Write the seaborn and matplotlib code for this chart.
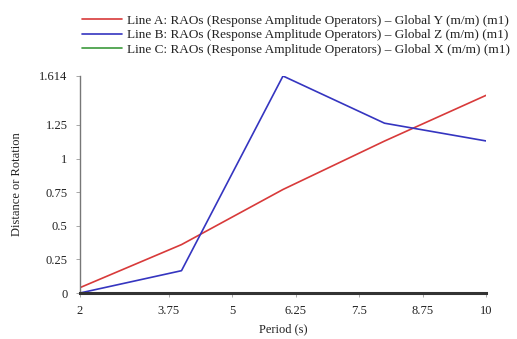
import matplotlib
matplotlib.use("Agg")
import matplotlib.pyplot as plt
import seaborn as sns
import pandas as pd

period = [2, 4, 6, 8, 10]
line_a = [0.04, 0.36, 0.77, 1.13, 1.47]
line_b = [0.0, 0.166, 1.614, 1.263, 1.131]
line_c = [0.0, 0.0, 0.0, 0.0, 0.0]
labels = [
    "Line A: RAOs (Response Amplitude Operators) \u2013 Global Y (m/m) (m1)",
    "Line B: RAOs (Response Amplitude Operators) \u2013 Global Z (m/m) (m1)",
    "Line C: RAOs (Response Amplitude Operators) \u2013 Global X (m/m) (m1)",
]
xticks = [2, 3.75, 5, 6.25, 7.5, 8.75, 10]
xticklabels = ["2", "3.75", "5", "6.25", "7.5", "8.75", "10"]
yticks = [0, 0.25, 0.5, 0.75, 1, 1.25, 1.614]
yticklabels = ["0", "0.25", "0.5", "0.75", "1", "1.25", "1.614"]

df = pd.DataFrame({
    "Period": period * 3,
    "Value": line_a + line_b + line_c,
    "Series": [labels[0]] * 5 + [labels[1]] * 5 + [labels[2]] * 5,
})

sns.set_theme(style="white")
plt.rcParams["font.family"] = ["Liberation Serif", "DejaVu Serif"]

fig = plt.figure(figsize=(5.17, 3.39), dpi=100)
ax = fig.add_axes([80 / 517, 1 - 293 / 339, 406 / 517, 217 / 339])

palette = {labels[0]: "#d83a3a", labels[1]: "#3535c0", labels[2]: "#3c9a3c"}
order = [labels[2], labels[0], labels[1]]
for lab in order:
    sub = df[df["Series"] == lab]
    sns.lineplot(data=sub, x="Period", y="Value", color=palette[lab], ax=ax,
                 linewidth=1.2, label=lab, legend=False)

ax.set_xlim(2, 10)
ax.set_ylim(0, 1.614)
ax.set_xticks(xticks)
ax.set_xticklabels(xticklabels)
ax.set_yticks(yticks)
ax.set_yticklabels(yticklabels)
ax.tick_params(axis="both", labelsize=9, length=3, width=0.6, color="#999999",
               direction="out", pad=6, labelcolor="#222222")
ax.tick_params(axis="both", which="both", bottom=True, left=True)
for s in ["top", "right"]:
    ax.spines[s].set_visible(False)
ax.spines["left"].set_color("#777777")
ax.spines["left"].set_linewidth(1.0)
ax.spines["bottom"].set_color("#333333")
ax.spines["bottom"].set_linewidth(2.2)
ax.set_xlabel("Period (s)", fontsize=9, color="#222222", labelpad=4)
ax.set_ylabel("Distance or Rotation", fontsize=9, color="#222222", labelpad=12)

handles = {l.get_label(): l for l in ax.get_lines()}
fig.legend([handles[l] for l in labels], labels, loc="upper right",
           bbox_to_anchor=(1.005, 0.985), frameon=False, fontsize=9.5,
           handlelength=3.0, handletextpad=0.4, labelspacing=0.18,
           borderaxespad=0.3, labelcolor="#222222")

fig.savefig("out.png", dpi=100)
